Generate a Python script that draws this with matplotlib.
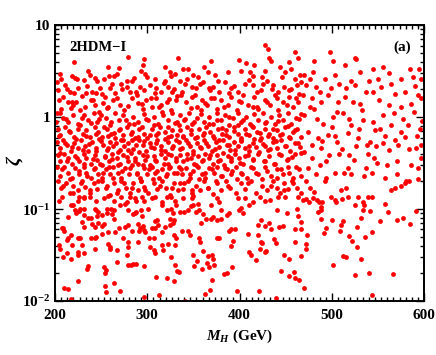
import matplotlib
matplotlib.use("Agg")
import matplotlib.pyplot as plt
from matplotlib.ticker import FixedLocator, LogLocator, MultipleLocator, NullFormatter

plt.rcParams['font.family'] = ['Liberation Serif', 'DejaVu Serif']
plt.rcParams['font.weight'] = 'bold'
plt.rcParams['mathtext.fontset'] = 'custom'
plt.rcParams['mathtext.rm'] = 'Liberation Serif:bold'
plt.rcParams['mathtext.bf'] = 'Liberation Serif:bold'
plt.rcParams['mathtext.it'] = 'Liberation Serif:italic:bold'

# scan points (M_H in GeV, zeta)
pts_upper_left = [
    (221, 4.0), (279, 4.46), (297, 4.3), (319, 3.5), (258, 3.5), (236, 3.2), (269, 3.4), (293, 3.2),
    (325, 3.1), (295, 3.7),
    (205, 2.91), (207, 2.63), (218, 2.81), (222, 2.68), (232, 2.52), (238, 2.86), (243, 2.68),
    (253, 2.63), (259, 2.81), (264, 2.81), (267, 2.98), (278, 2.46), (286, 2.68), (298, 2.98),
    (308, 2.63), (319, 2.46), (326, 2.81), (330, 2.91),
    (203, 1.97), (211, 2.23), (216, 1.88), (221, 1.81), (225, 2.05), (234, 1.81), (240, 1.88),
    (245, 1.81), (249, 2.05), (254, 1.66), (260, 2.05), (265, 1.81), (272, 2.32), (278, 2.14),
    (281, 1.88), (289, 1.73), (292, 2.14), (297, 1.97), (303, 2.23), (308, 1.81), (315, 1.88),
    (323, 2.14), (327, 1.88), (332, 1.71),
    (204, 1.53), (207, 1.24), (214, 1.47), (220, 1.35), (223, 1.47), (227, 1.19), (233, 1.29),
    (239, 1.53), (243, 1.35), (248, 1.14), (252, 1.41), (257, 1.29), (263, 1.53), (270, 1.35),
    (275, 1.19), (283, 1.60), (290, 1.41), (295, 1.24), (299, 1.53), (305, 1.29), (310, 1.60),
    (315, 1.35), (321, 1.47), (326, 1.19), (331, 1.53),
    (202, 1.10), (205, 1.12), (209, 0.97), (214, 0.89), (220, 1.05), (225, 0.85), (229, 0.98),
    (236, 0.93), (242, 1.10), (246, 0.89), (250, 1.05), (255, 0.97), (260, 0.82), (265, 1.10),
    (269, 0.93), (274, 1.05), (280, 0.85), (285, 1.01), (290, 0.89), (297, 1.07), (301, 0.93),
    (307, 1.01), (312, 0.85), (317, 1.05), (322, 0.93), (327, 1.10), (332, 0.89),
    (203, 0.75), (206, 0.64), (211, 0.78), (216, 0.69), (221, 0.61), (225, 0.75), (230, 0.66),
    (234, 0.72), (238, 0.61), (243, 0.78), (247, 0.69), (251, 0.61), (256, 0.75), (261, 0.66),
    (265, 0.59), (269, 0.72), (274, 0.64), (278, 0.78), (283, 0.69), (287, 0.60), (291, 0.75),
    (296, 0.66), (300, 0.59), (305, 0.74), (309, 0.64), (314, 0.78), (319, 0.69), (323, 0.61),
    (327, 0.72), (332, 0.64),
    (202, 0.54), (205, 0.46), (209, 0.56), (213, 0.50), (217, 0.43), (221, 0.53), (225, 0.46),
    (228, 0.56), (233, 0.49), (236, 0.43), (240, 0.54), (244, 0.46), (248, 0.58), (252, 0.50),
    (256, 0.44), (260, 0.54), (263, 0.48), (268, 0.42), (272, 0.56), (275, 0.49), (279, 0.44),
    (284, 0.56), (288, 0.50), (291, 0.56), (295, 0.50), (299, 0.43), (303, 0.53), (307, 0.46),
    (311, 0.56), (315, 0.49), (319, 0.43), (323, 0.54), (327, 0.46), (331, 0.56),
    (203, 0.39), (206, 0.33), (210, 0.40), (214, 0.36), (218, 0.31), (222, 0.38), (226, 0.33),
    (231, 0.40), (234, 0.36), (239, 0.31), (243, 0.39), (246, 0.34), (251, 0.30), (254, 0.38),
    (259, 0.33), (262, 0.40), (267, 0.36), (270, 0.31), (274, 0.39), (279, 0.33), (282, 0.41),
    (287, 0.36), (290, 0.31), (295, 0.39), (298, 0.34), (303, 0.30), (307, 0.38), (310, 0.33),
    (315, 0.40), (319, 0.36), (323, 0.31), (326, 0.39), (331, 0.33),
    (202, 0.29), (205, 0.23), (210, 0.29), (214, 0.25), (218, 0.22), (222, 0.28), (226, 0.24),
    (231, 0.29), (234, 0.25), (239, 0.22), (243, 0.28), (247, 0.24), (251, 0.22), (255, 0.27),
    (260, 0.24), (263, 0.29), (268, 0.25), (272, 0.22), (276, 0.28), (280, 0.24), (284, 0.30),
    (289, 0.25), (292, 0.22), (296, 0.28), (300, 0.24), (305, 0.29), (308, 0.25), (313, 0.22),
    (316, 0.27), (321, 0.24), (325, 0.29), (329, 0.25),
    (203, 0.20), (207, 0.168), (212, 0.19), (216, 0.148), (220, 0.18), (225, 0.161), (229, 0.20),
    (233, 0.175), (238, 0.148), (242, 0.19), (246, 0.165), (251, 0.20), (255, 0.17), (260, 0.144),
    (264, 0.19), (268, 0.161), (272, 0.20), (277, 0.17), (281, 0.148), (285, 0.19), (290, 0.161),
    (293, 0.20), (296, 0.175), (301, 0.148), (307, 0.19), (311, 0.165), (316, 0.20), (320, 0.17),
    (325, 0.144), (329, 0.19), (333, 0.161),
]

pts_fill_left = [
    (201, 0.88), (204, 0.62), (206, 0.41), (208, 0.27), (209, 0.18), (211, 0.52), (212, 0.95),
    (213, 0.33), (215, 0.71), (216, 0.21), (217, 1.25), (219, 0.47), (220, 0.15), (223, 0.58),
    (224, 0.36), (226, 0.26), (227, 0.82), (228, 0.19), (230, 0.44), (231, 1.05), (232, 0.31),
    (234, 0.62), (235, 0.23), (237, 0.51), (238, 0.16), (239, 0.86), (241, 0.35), (242, 0.27),
    (244, 0.66), (245, 0.43), (247, 0.20), (248, 0.95), (249, 0.31), (250, 0.55), (252, 0.25),
    (253, 0.78), (254, 0.37), (256, 0.18), (257, 0.62), (258, 0.46), (259, 0.29), (261, 0.88),
    (262, 0.35), (263, 0.22), (264, 0.68), (266, 0.52), (267, 0.15), (268, 0.30), (270, 0.75),
    (271, 0.44), (273, 0.26), (274, 0.57), (275, 0.19), (277, 0.92), (278, 0.37), (279, 0.53),
    (281, 0.28), (282, 0.66), (283, 0.17), (285, 0.45), (286, 0.85), (287, 0.33), (289, 0.24),
    (290, 0.61), (291, 0.42), (293, 0.20), (294, 0.78), (295, 0.30), (297, 0.55), (298, 0.16),
    (299, 0.95), (300, 0.38), (302, 0.27), (303, 0.64), (304, 0.47), (306, 0.21), (307, 0.83),
    (308, 0.34), (310, 0.52), (311, 0.26), (312, 0.68), (314, 0.18), (315, 0.44), (316, 1.15),
    (318, 0.31), (319, 0.58), (320, 0.23), (322, 0.79), (323, 0.40), (324, 0.28), (326, 0.63),
    (327, 0.17), (328, 0.49), (330, 0.86), (331, 0.36), (332, 0.25),
    (202, 2.4), (209, 1.65), (213, 2.0), (219, 1.45), (224, 2.6), (229, 1.7), (235, 2.2),
    (241, 1.55), (246, 2.45), (251, 1.8), (256, 1.25), (262, 2.3), (267, 1.62), (273, 2.0),
    (279, 1.32), (284, 2.5), (288, 1.9), (294, 1.4), (300, 2.7), (304, 1.6), (309, 2.05),
    (313, 1.28), (318, 2.35), (324, 1.58), (329, 2.0),
]

pts_upper_mid = [
    (428, 6.07), (431, 5.5), (460, 5.06), (399, 4.17), (407, 3.9), (369, 4.06), (333, 4.4),
    (432, 4.4), (434, 4.1), (416, 3.7), (454, 4.0), (463, 4.35),
    (339, 3.37), (344, 3.37), (350, 2.85), (355, 2.75), (362, 3.5), (366, 3.1), (373, 2.85),
    (387, 3.1), (402, 3.2), (411, 3.1), (415, 2.8), (424, 2.7), (427, 3.2), (444, 3.5), (449, 3.1),
    (456, 3.37), (460, 2.63), (465, 2.85),
    (335, 2.5), (341, 2.3), (348, 2.15), (353, 2.05), (360, 2.4), (368, 1.95), (371, 2.15),
    (378, 1.88), (384, 2.4), (391, 2.05), (398, 1.88), (406, 2.3), (415, 2.23), (423, 1.95),
    (430, 2.5), (436, 2.23), (442, 1.88), (448, 2.15), (454, 1.95), (462, 2.23), (464, 1.8),
    (337, 1.73), (342, 1.47), (348, 1.66), (354, 1.29), (359, 1.55), (365, 1.35), (369, 1.6),
    (376, 1.24), (380, 1.55), (387, 1.35), (391, 1.66), (397, 1.19), (402, 1.47), (409, 1.35),
    (416, 1.66), (420, 1.24), (427, 1.55), (433, 1.35), (438, 1.73), (442, 1.19), (447, 1.47),
    (453, 1.66), (458, 1.29), (463, 1.47),
    (336, 1.05), (340, 0.93), (345, 1.10), (349, 0.85), (354, 0.98), (358, 1.07), (362, 0.89),
    (367, 1.01), (371, 0.85), (375, 1.10), (380, 0.93), (384, 1.05), (389, 0.82), (393, 0.97),
    (398, 1.10), (402, 0.89), (407, 1.01), (411, 0.85), (416, 1.07), (420, 0.93), (425, 1.12),
    (429, 0.89), (434, 1.01), (438, 0.85), (443, 1.05), (447, 0.93), (452, 1.10), (456, 0.85),
    (461, 0.97), (466, 1.07),
    (335, 0.72), (339, 0.61), (343, 0.78), (347, 0.66), (352, 0.59), (356, 0.74), (360, 0.64),
    (364, 0.78), (368, 0.69), (372, 0.60), (377, 0.75), (381, 0.66), (385, 0.72), (389, 0.61),
    (394, 0.78), (398, 0.66), (402, 0.59), (406, 0.74), (410, 0.64), (415, 0.78), (419, 0.69),
    (423, 0.60), (427, 0.75), (432, 0.66), (436, 0.59), (440, 0.72), (444, 0.64), (449, 0.78),
    (453, 0.61), (458, 0.69), (462, 0.75), (466, 0.61),
    (334, 0.54), (338, 0.46), (342, 0.56), (346, 0.49), (350, 0.43), (354, 0.53), (358, 0.46),
    (362, 0.56), (366, 0.49), (370, 0.43), (374, 0.54), (378, 0.47), (382, 0.56), (386, 0.50),
    (390, 0.44), (394, 0.54), (398, 0.48), (402, 0.56), (406, 0.46), (410, 0.43), (414, 0.53),
    (418, 0.47), (422, 0.56), (427, 0.49), (431, 0.44), (436, 0.54), (440, 0.46), (445, 0.56),
    (450, 0.49), (455, 0.43), (460, 0.53), (465, 0.47),
    (335, 0.39), (339, 0.33), (343, 0.40), (347, 0.36), (351, 0.31), (355, 0.38), (359, 0.33),
    (363, 0.40), (367, 0.36), (371, 0.31), (375, 0.39), (379, 0.34), (383, 0.30), (387, 0.38),
    (391, 0.33), (395, 0.40), (399, 0.36), (404, 0.31), (409, 0.39), (414, 0.34), (420, 0.40),
    (426, 0.33), (432, 0.38), (438, 0.31), (445, 0.39), (452, 0.35), (460, 0.40),
    (334, 0.29), (338, 0.24), (342, 0.28), (346, 0.22), (350, 0.26), (355, 0.29), (359, 0.24),
    (363, 0.22), (367, 0.28), (372, 0.25), (376, 0.29), (381, 0.23), (386, 0.27), (391, 0.24),
    (396, 0.29), (402, 0.25), (408, 0.22), (414, 0.28), (420, 0.24), (428, 0.29), (434, 0.23),
    (441, 0.27), (447, 0.24), (452, 0.29), (458, 0.22), (464, 0.27),
    (335, 0.19), (339, 0.165), (344, 0.20), (348, 0.15), (353, 0.18), (357, 0.16), (362, 0.20),
    (366, 0.17), (371, 0.145), (375, 0.19), (380, 0.16), (385, 0.20), (390, 0.17), (396, 0.15),
    (401, 0.19), (406, 0.165), (412, 0.20), (418, 0.15), (424, 0.18), (430, 0.16), (436, 0.20),
    (440, 0.17), (444, 0.15), (448, 0.19), (452, 0.165), (457, 0.20), (462, 0.17), (466, 0.15),
]

pts_fill_mid = [
    (334, 0.82), (336, 0.45), (337, 0.27), (339, 0.62), (340, 0.19), (341, 0.96), (343, 0.35),
    (344, 0.52), (346, 0.24), (347, 0.73), (349, 0.16), (350, 0.40), (351, 0.88), (353, 0.30),
    (354, 0.61), (356, 0.21), (357, 0.47), (358, 1.2), (360, 0.34), (361, 0.68), (363, 0.25),
    (364, 0.53), (366, 0.17), (367, 0.85), (368, 0.39), (370, 0.27), (371, 0.63), (373, 0.45),
    (374, 0.20), (375, 0.92), (377, 0.33), (378, 0.57), (380, 0.23), (381, 0.76), (382, 0.41),
    (384, 0.28), (385, 0.64), (387, 0.18), (388, 0.50), (389, 1.0), (391, 0.36), (392, 0.26),
    (394, 0.70), (395, 0.44), (397, 0.21), (398, 0.83), (400, 0.32), (401, 0.55), (403, 0.24),
    (404, 0.94), (406, 0.38), (407, 0.66), (409, 0.19), (410, 0.48), (412, 0.29), (413, 0.80),
    (415, 0.35), (416, 0.58), (418, 0.25), (419, 1.3), (421, 0.42), (422, 0.68), (424, 0.21),
    (425, 0.51), (427, 0.33), (428, 0.87), (430, 0.26), (431, 0.62), (433, 0.45), (434, 0.18),
    (436, 0.74), (437, 0.31), (439, 0.55), (440, 0.22), (442, 0.90), (443, 0.40), (445, 0.27),
    (446, 0.66), (448, 0.16), (449, 0.48), (451, 0.34), (452, 0.81), (454, 0.25), (455, 0.59),
    (457, 0.37), (458, 0.19), (460, 0.72), (461, 0.29), (463, 0.52), (464, 0.95), (466, 0.41),
    (467, 0.23),
    (338, 1.9), (343, 2.6), (347, 1.25), (352, 1.75), (357, 2.3), (363, 1.42), (367, 2.05),
    (372, 1.6), (377, 2.5), (383, 1.3), (388, 1.85), (394, 2.2), (399, 1.5), (404, 1.75),
    (410, 2.55), (414, 1.28), (419, 1.9), (425, 2.3), (430, 1.45), (435, 2.0), (440, 1.6),
    (446, 2.7), (451, 1.35), (456, 2.0), (461, 1.6), (466, 2.4),
]

pts_upper_right = [
    (498, 5.1), (481, 4.06), (501, 4.06), (525, 4.4), (526, 4.3), (514, 3.7), (544, 3.37),
    (555, 3.5), (585, 3.37), (594, 3.37),
    (470, 2.9), (480, 3.1), (492, 2.63), (503, 2.85), (521, 2.45), (530, 3.1), (550, 2.6),
    (562, 3.0), (575, 2.63), (588, 2.7), (596, 2.63),
    (472, 2.23), (483, 2.15), (499, 2.05), (508, 2.3), (525, 2.23), (537, 1.9), (553, 2.15),
    (564, 2.3), (579, 1.88), (593, 1.73),
    (469, 1.73), (478, 1.6), (488, 1.47), (496, 1.73), (505, 1.14), (514, 1.67), (523, 1.47),
    (530, 1.4), (544, 1.88), (555, 1.05), (562, 1.35), (575, 1.3), (586, 1.4), (597, 1.6),
    (470, 1.05), (481, 1.24), (490, 0.85), (501, 1.0), (512, 1.1), (521, 0.82), (534, 0.93),
    (544, 0.89), (552, 0.75), (564, 0.82), (575, 0.69), (582, 0.82), (595, 0.75),
    (474, 0.69), (485, 0.59), (496, 0.64), (506, 0.54), (517, 0.67), (528, 0.59), (541, 0.54),
    (548, 0.48), (555, 0.52), (568, 0.56), (579, 0.61), (591, 0.46),
    (470, 0.42), (478, 0.36), (488, 0.46), (497, 0.39), (508, 0.40), (519, 0.39), (539, 0.40),
    (546, 0.36), (562, 0.44), (571, 0.33), (586, 0.30), (593, 0.28), (597, 0.36),
    (474, 0.28), (483, 0.24), (492, 0.2), (503, 0.25), (517, 0.28), (521, 0.24), (537, 0.28),
    (543, 0.25), (557, 0.22), (579, 0.19), (580, 0.2), (593, 0.21),
    (472, 0.2), (476, 0.17), (481, 0.154), (494, 0.216), (510, 0.16), (515, 0.17), (564, 0.16),
    (568, 0.17), (575, 0.18),
    (476, 1.3), (484, 0.95), (489, 0.55), (494, 0.33), (500, 0.78), (507, 1.45), (511, 0.45),
    (518, 0.95), (524, 0.34), (529, 0.75), (533, 1.2), (538, 0.5), (547, 0.72), (551, 1.55),
    (558, 0.62), (560, 0.30), (567, 1.1), (572, 0.5), (577, 0.95), (583, 0.45), (589, 1.15),
    (592, 0.62), (598, 0.9), (478, 0.5), (487, 0.3), (503, 0.62), (513, 0.25), (526, 0.48),
    (535, 0.23), (549, 0.32), (570, 0.24), (584, 0.2), (596, 0.5), (590, 2.2), (568, 1.8),
    (540, 2.5), (515, 2.1), (487, 1.9), (476, 2.6),
]

pts_lower_left = [
    (204, 0.124), (208, 0.136), (217, 0.11), (220, 0.112), (225, 0.124), (226, 0.136), (231, 0.136),
    (232, 0.131), (238, 0.136), (245, 0.124), (253, 0.131), (258, 0.139), (264, 0.124), (272, 0.136),
    (278, 0.12), (281, 0.136), (287, 0.131), (288, 0.122), (294, 0.136), (297, 0.124), (305, 0.131),
    (308, 0.136), (316, 0.12), (321, 0.136), (326, 0.136), (330, 0.122),
    (222, 0.098), (226, 0.095), (227, 0.1), (231, 0.1), (243, 0.1), (245, 0.098), (247, 0.094),
    (256, 0.1), (261, 0.1), (264, 0.098), (270, 0.11), (276, 0.114), (279, 0.098), (285, 0.088),
    (288, 0.094), (293, 0.098), (301, 0.1), (316, 0.11), (321, 0.098), (326, 0.1), (331, 0.11),
    (328, 0.09),
    (214, 0.083), (223, 0.09), (232, 0.086), (236, 0.08), (239, 0.08), (246, 0.085), (251, 0.086),
    (256, 0.09), (262, 0.088), (264, 0.079), (287, 0.09), (294, 0.085), (308, 0.074), (311, 0.076),
    (325, 0.079), (329, 0.076),
    (208, 0.063), (209, 0.062), (229, 0.072), (231, 0.064), (240, 0.068), (243, 0.064), (247, 0.07),
    (251, 0.066), (253, 0.068), (269, 0.062), (276, 0.064), (279, 0.067), (290, 0.068), (292, 0.062),
    (295, 0.066), (305, 0.062), (308, 0.063), (312, 0.067), (319, 0.064), (325, 0.067), (328, 0.07),
    (210, 0.058), (214, 0.048), (213, 0.046), (217, 0.052), (225, 0.049), (227, 0.049), (239, 0.048),
    (243, 0.048), (245, 0.05), (251, 0.054), (258, 0.057), (265, 0.057), (274, 0.049), (283, 0.058),
    (291, 0.058), (296, 0.059), (298, 0.056), (307, 0.049), (316, 0.057), (329, 0.052), (331, 0.048),
    (204, 0.041), (218, 0.041), (229, 0.041), (258, 0.042), (260, 0.039), (279, 0.044), (279, 0.039),
    (290, 0.044), (302, 0.048), (303, 0.039), (316, 0.041), (323, 0.042), (330, 0.041),
    (205, 0.037), (209, 0.030), (213, 0.033), (217, 0.029), (225, 0.034), (225, 0.032), (232, 0.033),
    (243, 0.037), (260, 0.037), (267, 0.036), (278, 0.0316), (307, 0.036), (308, 0.033),
    (317, 0.036), (326, 0.030),
    (235, 0.0223), (236, 0.024), (253, 0.0232), (255, 0.022), (267, 0.0268), (279, 0.0246),
    (282, 0.0246), (285, 0.025), (288, 0.0255), (296, 0.0242), (330, 0.0246),
    (254, 0.02), (309, 0.0184), (321, 0.0176), (332, 0.0213), (329, 0.0165), (225, 0.0165),
    (210, 0.014), (214, 0.0135), (254, 0.0146), (255, 0.0126), (264, 0.0156), (270, 0.0128),
    (297, 0.011), (313, 0.0116), (217, 0.0104),
]

pts_lower_mid = [
    (339, 0.131), (348, 0.131), (350, 0.14), (355, 0.114), (335, 0.094), (340, 0.093), (344, 0.098),
    (347, 0.107), (350, 0.11), (353, 0.092), (356, 0.098), (358, 0.07), (360, 0.089), (364, 0.079),
    (369, 0.11), (369, 0.079), (371, 0.082), (375, 0.077), (376, 0.131), (378, 0.12), (380, 0.098),
    (380, 0.079), (386, 0.086), (388, 0.09), (389, 0.058), (391, 0.061), (395, 0.061), (398, 0.131),
    (399, 0.098), (402, 0.104), (404, 0.09), (406, 0.131), (410, 0.11), (415, 0.12), (420, 0.067),
    (422, 0.135), (423, 0.077), (428, 0.123), (428, 0.066), (432, 0.071), (433, 0.127), (434, 0.061),
    (440, 0.098), (442, 0.135), (443, 0.064), (447, 0.066), (449, 0.135), (451, 0.09), (460, 0.061),
    (462, 0.1), (463, 0.135), (463, 0.084),
    (338, 0.058), (344, 0.058), (346, 0.052), (356, 0.048), (357, 0.044), (376, 0.048), (378, 0.048),
    (393, 0.045), (391, 0.04), (409, 0.054), (420, 0.052), (423, 0.044), (422, 0.037), (424, 0.043),
    (429, 0.035), (437, 0.047), (439, 0.043), (460, 0.044), (448, 0.032), (453, 0.029),
    (350, 0.032), (354, 0.0275), (360, 0.035), (366, 0.031), (365, 0.026), (370, 0.032), (371, 0.029),
    (372, 0.0246), (351, 0.024), (359, 0.0223), (367, 0.0236), (383, 0.0195), (386, 0.02),
    (392, 0.0236), (410, 0.034), (412, 0.032), (418, 0.028), (428, 0.034), (445, 0.021),
    (454, 0.0186), (459, 0.0205), (460, 0.018), (464, 0.017), (370, 0.017), (368, 0.0133),
    (363, 0.012), (397, 0.013), (421, 0.013), (439, 0.0108), (341, 0.0101), (334, 0.0208),
]

pts_lower_right = [
    (469, 0.125), (472, 0.128), (475, 0.12), (479, 0.133), (484, 0.125), (486, 0.118), (489, 0.12),
    (488, 0.106), (488, 0.097), (485, 0.092), (499, 0.137), (503, 0.125), (504, 0.118), (511, 0.13),
    (517, 0.137), (525, 0.11), (528, 0.137), (534, 0.118), (535, 0.11), (534, 0.097), (539, 0.137),
    (543, 0.137), (541, 0.095), (557, 0.115), (561, 0.094), (591, 0.095),
    (467, 0.073), (467, 0.060), (473, 0.052), (488, 0.079), (494, 0.063), (491, 0.055), (500, 0.076),
    (510, 0.067), (512, 0.074), (509, 0.058), (531, 0.081), (527, 0.064), (543, 0.057), (552, 0.074),
    (571, 0.076), (577, 0.08), (585, 0.068),
    (518, 0.051), (522, 0.045), (536, 0.05), (472, 0.042), (472, 0.037), (467, 0.031), (527, 0.039),
    (512, 0.031), (515, 0.03), (532, 0.029), (501, 0.0245), (525, 0.019), (540, 0.02),
    (566, 0.0196), (470, 0.0137), (543, 0.0115),
]

all_pts = (pts_upper_left + pts_fill_left + pts_upper_mid + pts_fill_mid + pts_upper_right
           + pts_lower_left + pts_lower_mid + pts_lower_right)
mh = [p[0] for p in all_pts]
zeta = [p[1] for p in all_pts]

x_ticks = [200, 300, 400, 500, 600]
y_ticks = [0.01, 0.1, 1, 10]
y_tick_labels = [r'$10^{-2}$', r'$10^{-1}$', '1', '10']

fig = plt.figure(figsize=(4.36, 3.55), dpi=100)
ax = fig.add_axes([0.126, 0.152, 0.847, 0.777])

ax.scatter(mh, zeta, s=12, color='#ff0000', linewidths=0, zorder=2)

ax.set_xlim(200, 600)
ax.set_yscale('log')
ax.set_ylim(0.01, 10)

ax.xaxis.set_major_locator(FixedLocator(x_ticks))
ax.xaxis.set_minor_locator(MultipleLocator(100 / 15))
ax.yaxis.set_major_locator(FixedLocator(y_ticks))
ax.yaxis.set_minor_locator(LogLocator(base=10, subs=range(2, 10)))
ax.yaxis.set_minor_formatter(NullFormatter())
ax.set_yticklabels(y_tick_labels)

ax.tick_params(which='both', direction='in', top=True, right=True, width=1.0,
               labelsize=11)
ax.tick_params(which='major', length=6)
ax.tick_params(which='minor', length=3)
ax.tick_params(axis='x', which='major', pad=6)
for side in ax.spines.values():
    side.set_linewidth(1.4)

ax.set_xlabel(r'$M_H$ (GeV)', fontsize=11, fontweight='bold')
ax.set_ylabel(r'$\zeta$', fontsize=14)
ax.yaxis.set_label_coords(-0.08, 0.51)

ax.text(0.04, 0.92, '2HDM\u2212I', transform=ax.transAxes, fontsize=10.5,
        fontweight='bold', va='center')
ax.text(0.965, 0.92, '(a)', transform=ax.transAxes, fontsize=11,
        fontweight='bold', ha='right', va='center')

fig.savefig('out.png', dpi=100)
